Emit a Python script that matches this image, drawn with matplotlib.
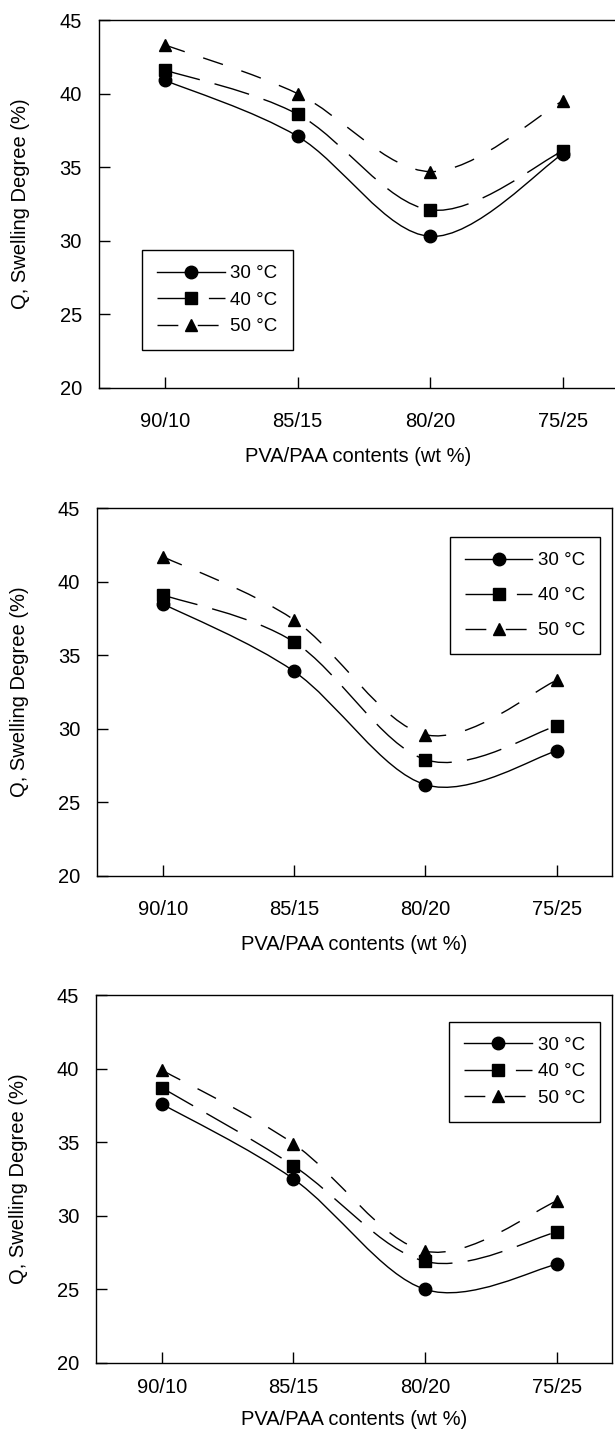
import matplotlib
matplotlib.use("Agg")
import matplotlib.pyplot as plt
from matplotlib.lines import Line2D
from matplotlib.patches import PathPatch
from matplotlib.path import Path

plt.rcParams['font.family'] = ['Liberation Sans', 'DejaVu Sans']

categories = ["90/10", "85/15", "80/20", "75/25"]
temps = ["30 °C", "40 °C", "50 °C"]

# panel 1 (top)
top_30 = [40.9, 37.1, 30.3, 35.9]
top_40 = [41.6, 38.6, 32.1, 36.1]
top_50 = [43.3, 40.0, 34.7, 39.5]

# panel 2 (middle)
mid_30 = [38.5, 33.9, 26.2, 28.5]
mid_40 = [39.1, 35.9, 27.9, 30.2]
mid_50 = [41.7, 37.4, 29.6, 33.3]

# panel 3 (bottom)
bot_30 = [37.6, 32.5, 25.0, 26.7]
bot_40 = [38.7, 33.4, 26.9, 28.9]
bot_50 = [39.9, 34.9, 27.6, 31.0]

markers = ['o', 's', '^']
dashes = ['-', (0, (26, 11)), (0, (15, 14))]


def smooth_path(xs, ys):
    # bezier curve through the points (like the "smoothed line" option of a spreadsheet)
    pts = list(zip(xs, ys))
    n = len(pts)
    verts = [pts[0]]
    codes = [Path.MOVETO]
    for i in range(n - 1):
        p0 = pts[max(i - 1, 0)]
        p1 = pts[i]
        p2 = pts[i + 1]
        p3 = pts[min(i + 2, n - 1)]
        c1 = (p1[0] + (p2[0] - p0[0]) / 6, p1[1] + (p2[1] - p0[1]) / 6)
        c2 = (p2[0] - (p3[0] - p1[0]) / 6, p2[1] - (p3[1] - p1[1]) / 6)
        verts += [c1, c2, p2]
        codes += [Path.CURVE4] * 3
    return Path(verts, codes)


def draw_panel(ax, series, legend_anchor, spacing, xpad, xlabelpad):
    x = list(range(len(categories)))
    for vals, m, ls in zip(series, markers, dashes):
        patch = PathPatch(smooth_path(x, vals), facecolor='none', edgecolor='black',
                          linewidth=1.0, linestyle=ls)
        ax.add_patch(patch)
        ax.plot(x, vals, linestyle='none', marker=m, color='black', markersize=9)

    ax.set_xlim(-0.5, 3.42)
    ax.set_ylim(20, 45)
    ax.set_xticks(x)
    ax.set_xticklabels(categories)
    ax.set_yticks([20, 25, 30, 35, 40, 45])
    ax.tick_params(axis='both', direction='in', length=8, width=1, labelsize=14.5)
    ax.tick_params(axis='x', pad=xpad)
    ax.tick_params(axis='y', pad=12)
    for s in ax.spines.values():
        s.set_linewidth(1.0)

    ax.set_xlabel("PVA/PAA contents (wt %)", fontsize=14.5, labelpad=xlabelpad)
    ax.set_ylabel("Q, Swelling Degree (%)", fontsize=14.5, labelpad=21)

    handles = [Line2D([], [], color='black', linestyle=ls, linewidth=1.0, marker=m, markersize=9)
               for m, ls in zip(markers, dashes)]
    leg = ax.legend(handles, temps, loc='upper left', bbox_to_anchor=legend_anchor,
                    fontsize=13.5, frameon=True, fancybox=False, framealpha=1,
                    edgecolor='black', handlelength=3.6, handletextpad=0.3,
                    labelspacing=spacing, borderpad=0.8, borderaxespad=0, numpoints=1)
    leg.get_frame().set_linewidth(1.0)


def main():
    fig = plt.figure(figsize=(6.15, 14.29), dpi=100)

    ax1 = fig.add_axes([0.1605, 0.7285, 0.845, 0.2575])
    ax2 = fig.add_axes([0.1577, 0.3870, 0.8374, 0.2575])
    ax3 = fig.add_axes([0.1561, 0.0462, 0.839, 0.2575])

    draw_panel(ax1, [top_30, top_40, top_50], (0.084, 0.375), 0.5, 17, 12)
    draw_panel(ax2, [mid_30, mid_40, mid_50], (0.685, 0.921), 0.95, 17, 12)
    draw_panel(ax3, [bot_30, bot_40, bot_50], (0.685, 0.927), 0.5, 11, 9)

    fig.savefig("out.png", dpi=100)


if __name__ == '__main__':
    main()
